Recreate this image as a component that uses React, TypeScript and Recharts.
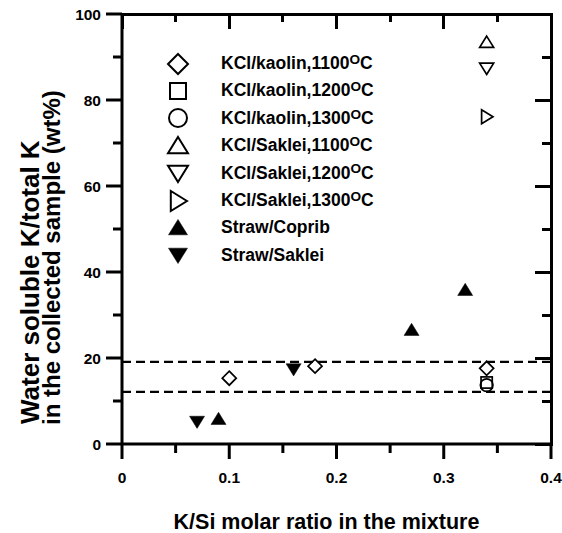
import React from 'react';
import { ScatterChart, Scatter, XAxis, YAxis, ReferenceLine, Label } from 'recharts';

// measured values, K/Si molar ratio vs water soluble K (wt%)
const kaolin1100 = [
  { x: 0.1, y: 15.3 },
  { x: 0.18, y: 18.1 },
  { x: 0.34, y: 17.6 }
];
const kaolin1200 = [{ x: 0.34, y: 14.3 }];
const kaolin1300 = [{ x: 0.34, y: 13.7 }];
const saklei1100 = [{ x: 0.34, y: 93.4 }];
const saklei1200 = [{ x: 0.34, y: 87.4 }];
const saklei1300 = [{ x: 0.34, y: 76.1 }];
const strawCoprib = [
  { x: 0.09, y: 5.8 },
  { x: 0.27, y: 26.5 },
  { x: 0.32, y: 35.8 }
];
const strawSaklei = [
  { x: 0.07, y: 5.2 },
  { x: 0.16, y: 17.4 }
];

const bandLevels = [19.1, 12.1];

const X_DOMAIN = [0, 0.4];
const Y_DOMAIN = [0, 100];
const xTicks = [0, 0.05, 0.1, 0.15, 0.2, 0.25, 0.3, 0.35, 0.4];
const xMajor = [0, 0.1, 0.2, 0.3, 0.4];
const yTicks = [0, 10, 20, 30, 40, 50, 60, 70, 80, 90, 100];
const yMajor = [0, 20, 40, 60, 80, 100];

const legendItems = [
  { kind: 'diamond', filled: false, label: 'KCl/kaolin,1100', deg: true },
  { kind: 'square', filled: false, label: 'KCl/kaolin,1200', deg: true },
  { kind: 'circle', filled: false, label: 'KCl/kaolin,1300', deg: true },
  { kind: 'up', filled: false, label: 'KCl/Saklei,1100', deg: true },
  { kind: 'down', filled: false, label: 'KCl/Saklei,1200', deg: true },
  { kind: 'right', filled: false, label: 'KCl/Saklei,1300', deg: true },
  { kind: 'up', filled: true, label: 'Straw/Coprib', deg: false },
  { kind: 'down', filled: true, label: 'Straw/Saklei', deg: false }
];

const FONT = '"Liberation Sans", Arial, Helvetica, sans-serif';

// chart layout
const W = 562;
const H = 533;
const MARGIN = { top: 14, right: 11, bottom: 0, left: 0 };
const Y_AXIS_W = 122;
const X_AXIS_H = 89;
const PLOT = {
  left: MARGIN.left + Y_AXIS_W,
  right: W - MARGIN.right,
  top: MARGIN.top,
  bottom: H - MARGIN.bottom - X_AXIS_H
};

const drawSymbol = (kind: string, cx: number, cy: number, s: number, filled: boolean, sw: number) => {
  const common = filled
    ? { fill: '#000', stroke: '#000', strokeWidth: 0.5 }
    : { fill: 'none', stroke: '#000', strokeWidth: sw };
  const h = s / 2;
  if (kind === 'diamond') {
    return <polygon points={`${cx},${cy - h} ${cx + h},${cy} ${cx},${cy + h} ${cx - h},${cy}`} {...common} />;
  }
  if (kind === 'square') {
    const a = s * 0.8;
    return <rect x={cx - a / 2} y={cy - a / 2} width={a} height={a} {...common} />;
  }
  if (kind === 'circle') {
    return <circle cx={cx} cy={cy} r={s * 0.45} {...common} />;
  }
  const t = s * 0.45;
  if (kind === 'up') {
    return <polygon points={`${cx},${cy - t} ${cx + h},${cy + t * 0.8} ${cx - h},${cy + t * 0.8}`} {...common} />;
  }
  if (kind === 'down') {
    return <polygon points={`${cx},${cy + t} ${cx + h},${cy - t * 0.8} ${cx - h},${cy - t * 0.8}`} {...common} />;
  }
  // right-pointing triangle
  return <polygon points={`${cx + t},${cy} ${cx - t * 0.8},${cy - h} ${cx - t * 0.8},${cy + h}`} {...common} />;
};

const makeShape = (kind: string, filled: boolean) => (props: any) => {
  const { cx, cy } = props;
  if (cx == null || cy == null) return <g />;
  return drawSymbol(kind, cx, cy, filled ? 15 : 14, filled, 1.7);
};

const BottomTick = ({ x, y, payload }: any) => {
  const major = xMajor.includes(payload.value);
  return (
    <g>
      <line x1={x} y1={y} x2={x} y2={y + (major ? 15 : 9)} stroke="#000" strokeWidth={3} />
      {major && (
        <text x={x} y={y + 39} textAnchor="middle" fontSize={15.5} fontWeight="bold" fontFamily={FONT} fill="#000">
          {String(payload.value)}
        </text>
      )}
    </g>
  );
};

const LeftTick = ({ x, y, payload }: any) => {
  const major = yMajor.includes(payload.value);
  return (
    <g>
      <line x1={x} y1={y} x2={x - (major ? 16 : 9)} y2={y} stroke="#000" strokeWidth={3} />
      {major && (
        <text x={x - 21} y={y} dy="0.36em" textAnchor="end" fontSize={15.5} fontWeight="bold" fontFamily={FONT} fill="#000">
          {String(payload.value)}
        </text>
      )}
    </g>
  );
};

const XTitle = ({ viewBox }: any) => (
  <text
    x={viewBox.x + viewBox.width / 2 - 10}
    y={529}
    textAnchor="middle"
    fontFamily={FONT}
    fontWeight="bold"
    fontSize={21.5}
    fill="#000"
  >
    K/Si molar ratio in the mixture
  </text>
);

const YTitle = () => (
  <g fontFamily={FONT} fontWeight="bold" fill="#000">
    <text x={39} y={424} fontSize={26} textAnchor="start" transform="rotate(-90 39 424)">
      Water soluble K/total K
    </text>
    <text x={60} y={425} fontSize={24} textAnchor="start" transform="rotate(-90 60 425)">
      in the collected sample (wt%)
    </text>
  </g>
);

// closed frame: top and right edges with inward mirrored ticks, as plain boxes
const sx = (v: number) =>
  PLOT.left + ((v - X_DOMAIN[0]) / (X_DOMAIN[1] - X_DOMAIN[0])) * (PLOT.right - PLOT.left);
const sy = (v: number) =>
  PLOT.bottom - ((v - Y_DOMAIN[0]) / (Y_DOMAIN[1] - Y_DOMAIN[0])) * (PLOT.bottom - PLOT.top);

const bar = (left: number, top: number, width: number, height: number, key: string) => (
  <div
    key={key}
    style={{ position: 'absolute', left, top, width, height, background: '#000' }}
  />
);

const FrameOverlay = () => (
  <div style={{ position: 'absolute', left: 0, top: 0, width: W, height: H, pointerEvents: 'none', zIndex: 5 }}>
    {bar(PLOT.left - 1.5, PLOT.top - 1.5, PLOT.right - PLOT.left + 3, 3, 'top')}
    {bar(PLOT.right - 1.5, PLOT.top - 1.5, 3, PLOT.bottom - PLOT.top + 3, 'right')}
    {xTicks.map((v) => bar(sx(v) - 1.5, PLOT.top, 3, xMajor.includes(v) ? 15 : 8, 't' + v))}
    {yTicks.map((v) => {
      const len = yMajor.includes(v) ? 16 : 9;
      return bar(PLOT.right - len, sy(v) - 1.5, len, 3, 'r' + v);
    })}
  </div>
);

const ChartLegend = () => (
  <div style={{ position: 'absolute', left: 166, top: 50, fontFamily: FONT, fontWeight: 'bold', fontSize: 17.5, zIndex: 6 }}>
    {legendItems.map((it, i) => (
      <div key={i} style={{ display: 'flex', alignItems: 'center', height: 27.4 }}>
        <svg width={24} height={24} style={{ display: 'block' }}>
          {drawSymbol(it.kind, 12, 12, it.filled ? 19 : 20, it.filled, 2)}
        </svg>
        <span style={{ marginLeft: 31, whiteSpace: 'nowrap', lineHeight: 1 }}>
          {it.label}
          {it.deg && (
            <span style={{ fontSize: '0.78em', position: 'relative', top: '-0.38em' }}>O</span>
          )}
          {it.deg ? 'C' : ''}
        </span>
      </div>
    ))}
  </div>
);

const series = [
  { data: kaolin1100, kind: 'diamond', filled: false },
  { data: kaolin1200, kind: 'square', filled: false },
  { data: kaolin1300, kind: 'circle', filled: false },
  { data: saklei1100, kind: 'up', filled: false },
  { data: saklei1200, kind: 'down', filled: false },
  { data: saklei1300, kind: 'right', filled: false },
  { data: strawCoprib, kind: 'up', filled: true },
  { data: strawSaklei, kind: 'down', filled: true }
];

export default function App() {
  return (
    <div style={{ position: 'absolute', left: 0, top: 0, width: W, height: H, background: '#fff' }}>
      <ScatterChart width={W} height={H} margin={MARGIN}>
        <XAxis
          type="number"
          dataKey="x"
          domain={X_DOMAIN}
          ticks={xTicks}
          tick={<BottomTick />}
          tickLine={false}
          tickSize={0}
          tickMargin={0}
          height={X_AXIS_H}
          axisLine={{ stroke: '#000', strokeWidth: 3 }}
          interval={0}
        >
          <Label content={<XTitle />} />
        </XAxis>
        <YAxis
          type="number"
          dataKey="y"
          domain={Y_DOMAIN}
          ticks={yTicks}
          tick={<LeftTick />}
          tickLine={false}
          tickSize={0}
          tickMargin={0}
          width={Y_AXIS_W}
          axisLine={{ stroke: '#000', strokeWidth: 3 }}
          interval={0}
        >
          <Label content={<YTitle />} />
        </YAxis>
        {bandLevels.map((lv, i) => (
          <ReferenceLine
            key={i}
            y={lv}
            ifOverflow="visible"
            stroke="#000"
            strokeWidth={2.2}
            strokeDasharray="9 5"
          />
        ))}
        {series.map((s, i) => (
          <Scatter
            key={i}
            data={s.data}
            shape={makeShape(s.kind, s.filled)}
            isAnimationActive={false}
          />
        ))}
      </ScatterChart>
      <FrameOverlay />
      <ChartLegend />
    </div>
  );
}
